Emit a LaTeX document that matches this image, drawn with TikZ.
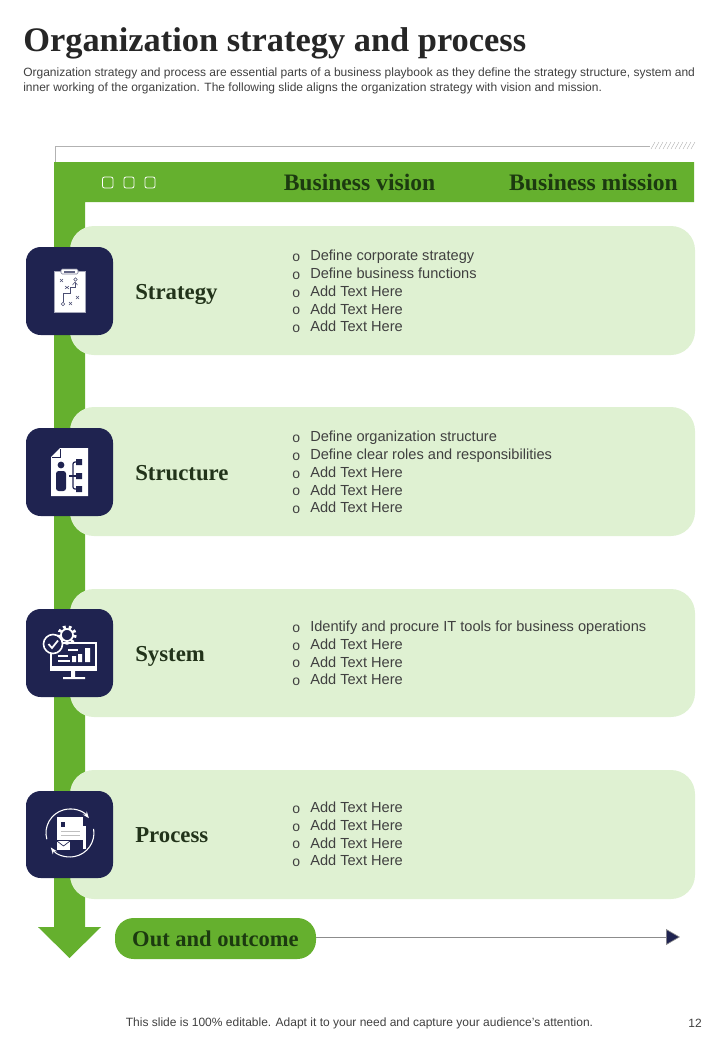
\documentclass[tikz,border=0pt]{standalone}
\usepackage{fontspec}
\setmainfont{Liberation Serif}
\setsansfont{Liberation Sans}
\usepackage{xcolor}
\usetikzlibrary{arrows.meta, positioning, shapes.geometric, calc}
\definecolor{leafgreen}{HTML}{65B02E}
\definecolor{palegreen}{HTML}{DFF1D2}
\definecolor{navyblue}{HTML}{1F2350}
\definecolor{darkleaf}{HTML}{1C3A10}
\definecolor{inkgreen}{HTML}{22331A}
\definecolor{bodygray}{HTML}{404040}
\newcommand{\bul}{\makebox[13.5pt][l]{\raisebox{-0.6pt}{\fontsize{10.5pt}{10.5pt}\selectfont o}}}

\begin{document}
\begin{tikzpicture}[
    x=0.75pt, y=-0.75pt,
    rowbox/.style={fill=palegreen, rounded corners=18pt},
    iconbox/.style={fill=navyblue, rounded corners=11pt},
    rowtitle/.style={anchor=base west, inner sep=0pt, text=inkgreen, font=\fontsize{17.1pt}{18pt}\selectfont\bfseries},
    headtitle/.style={anchor=base, inner sep=0pt, text=darkleaf, font=\fontsize{17.7pt}{18pt}\selectfont\bfseries},
    bullets/.style={anchor=west, inner sep=0pt, align=left, text=bodygray, font=\sffamily\fontsize{10.95pt}{13.3pt}\selectfont},
    smalltext/.style={inner sep=0pt, text=bodygray, font=\sffamily\fontsize{9pt}{11.2pt}\selectfont},
    dotbox/.style={draw=white, line width=0.6pt, rounded corners=1.5pt},
    iconline/.style={draw=white, line width=0.8pt},
    markline/.style={draw=navyblue!80, line width=0.4pt},
    arrow/.style={-{Triangle[length=10.5pt, width=12pt, fill=navyblue]}, draw=black!45, line width=0.5pt},
]
\useasboundingbox (0,0) rectangle (720,1040);

% title block
\node[anchor=base west, inner sep=0pt, text=black!85, font=\fontsize{25.8pt}{30pt}\selectfont\bfseries] (title) at (23,51) {Organization strategy and process};
\node[smalltext, anchor=north west, align=left] (intro) at (23,67.5) {Organization strategy and process are essential parts of a business playbook as they define the strategy structure, system and\\inner working of the organization. The following slide aligns the organization strategy with vision and mission.};

% frame line and hatching
\draw[black!30, line width=0.7pt] (55,162) -- (55,146) -- (650,146);
\foreach \hx in {651,655,...,691} {
  \draw[black!30, line width=0.3pt] (\hx,149) -- (\hx+4,142);
}

% header band and big arrow
\fill[leafgreen] (54,162) -- (694,162) -- (694,202) -- (85,202) -- (85,927) -- (101,927) -- (69.5,958) -- (38,927) -- (54,927) -- cycle;
\draw[dotbox] (102.5,177) rectangle (113,188);
\draw[dotbox] (124,177) rectangle (134,188);
\draw[dotbox] (145,177) rectangle (155,188);
\node[headtitle] (vision) at (359.5,190.5) {Business vision};
\node[headtitle] (mission) at (593.5,190.5) {Business mission};

% rows
\fill[rowbox] (70,226) rectangle (695,355);
\fill[rowbox] (70,407) rectangle (695,536);
\fill[rowbox] (70,589) rectangle (695,717);
\fill[rowbox] (70,770) rectangle (695,899);
\fill[iconbox] (26,247) rectangle (113,335);
\fill[iconbox] (26,428) rectangle (113,516);
\fill[iconbox] (26,609) rectangle (113,697);
\fill[iconbox] (26,791) rectangle (113,878);

\node[rowtitle] (strategy) at (135,299.5) {Strategy};
\node[rowtitle] (structure) at (135,480.5) {Structure};
\node[rowtitle] (system) at (135,661.5) {System};
\node[rowtitle] (process) at (135,842.5) {Process};

\node[bullets] (strategylist) at (292,291.5) {\bul Define corporate strategy\\\bul Define business functions\\\bul Add Text Here\\\bul Add Text Here\\\bul Add Text Here};
\node[bullets] (structurelist) at (292,472.5) {\bul Define organization structure\\\bul Define clear roles and responsibilities\\\bul Add Text Here\\\bul Add Text Here\\\bul Add Text Here};
\node[bullets] (systemlist) at (292,653.5) {\bul Identify and procure IT tools for business operations\\\bul Add Text Here\\\bul Add Text Here\\\bul Add Text Here};
\node[bullets] (processlist) at (292,834.5) {\bul Add Text Here\\\bul Add Text Here\\\bul Add Text Here\\\bul Add Text Here};

% strategy icon
\draw[fill=white, draw=navyblue!40, line width=0.5pt] (54,271) rectangle (85,312);
\fill[white, draw=navyblue!60, line width=0.4pt, rounded corners=1pt] (61,269) rectangle (78,274);
\fill[navyblue!70] (64,271) rectangle (75,272.5);
\draw[markline] (63,302) -- (63,293) -- (70,293) -- (70,287) -- (75,287) -- (75,283);
\draw[markline] (72.5,285) -- (75,282) -- (77.5,285);
\draw[markline] (63,304) circle (1.8) (75.5,279.5) circle (1.8);
\draw[markline] (60,279) -- (63,282) (63,279) -- (60,282);
\draw[markline] (65,286) -- (69,289) (69,286) -- (65,289);
\draw[markline] (76,296) -- (79,299) (79,296) -- (76,299);
\draw[markline] (69,302) -- (72,305) (72,302) -- (69,305);

% structure icon
\fill[white] (60,448) -- (88,448) -- (88,496) -- (51,496) -- (51,457) -- cycle;
\draw[navyblue, line width=0.4pt] (60,449) -- (60,457) -- (52,457);
\fill[navyblue] (61,465) circle (3.4);
\fill[navyblue, rounded corners=2pt] (56,471) rectangle (66,491);
\draw[navyblue, line width=0.9pt, rounded corners=1.5pt] (76,462) -- (73,462) -- (73,489) -- (76,489);
\draw[navyblue, line width=0.9pt] (69,476) -- (76,476);
\fill[navyblue] (76,459) rectangle (82,465) (76,473) rectangle (82,479) (76,486) rectangle (82,492);

% system icon
\draw[iconline, line width=1.2pt] (57,643) -- (96,643) -- (96,670) -- (51,670) -- (51,654);
\fill[white] (51,666) rectangle (96,671);
\fill[white] (71,671) rectangle (75,677) (63,677) rectangle (85,679);
\fill[white] (72,662) rectangle (76,656) (78,662) rectangle (82,654) (85,662) rectangle (90,648);
\draw[iconline] (58,656) -- (68,656) (58,661) -- (70,661) (68,650) -- (78,650);
\draw[white, line width=2.5pt, dash pattern=on 2pt off 2.2pt] (67,635) circle (8);
\draw[white, line width=1.3pt, fill=navyblue] (67,635) circle (6);
\draw[white, line width=1.2pt, fill=navyblue] (53,644) circle (9.5);
\draw[white, line width=1.3pt] (48.5,644) -- (52,648) -- (58,640.5);

% process icon
\draw[white, line width=0.8pt, -{Stealth[length=5pt]}] (46.8,839.2) arc[start angle=195, end angle=38, radius=18pt];
\draw[white, line width=0.8pt, -{Stealth[length=5pt]}] (93.6,828.8) arc[start angle=10, end angle=-143, radius=18pt];
\fill[white] (57,817) rectangle (83,840);
\fill[navyblue] (61,822) rectangle (65,827);
\draw[black!25, line width=0.5pt] (61,831) -- (80,831) (61,835) -- (80,835);
\fill[white] (57,841) -- (70,841) -- (70,850) -- (57,850) -- cycle;
\draw[navyblue, line width=0.5pt] (57,841) -- (63.5,846) -- (70,841);
\fill[white] (83,826) rectangle (86,849);

% outcome pill and line
\node[fill=leafgreen, rounded corners=14pt, minimum width=150.75pt, minimum height=30.75pt, inner sep=0pt, text=darkleaf, font=\fontsize{16.9pt}{18pt}\selectfont\bfseries] (outcome) at (215.5,938.5) {\raisebox{-1pt}{Out and outcome}};
\coordinate (lineend) at (680,937);
\draw[arrow] (outcome.east |- lineend) -- (lineend);

% footer
\node[smalltext, anchor=center] (footer) at (359.5,1023) {This slide is 100\% editable. Adapt it to your need and capture your audience's attention.};
\node[smalltext, anchor=center] (pagenum) at (695,1023) {12};
\end{tikzpicture}
\end{document}
